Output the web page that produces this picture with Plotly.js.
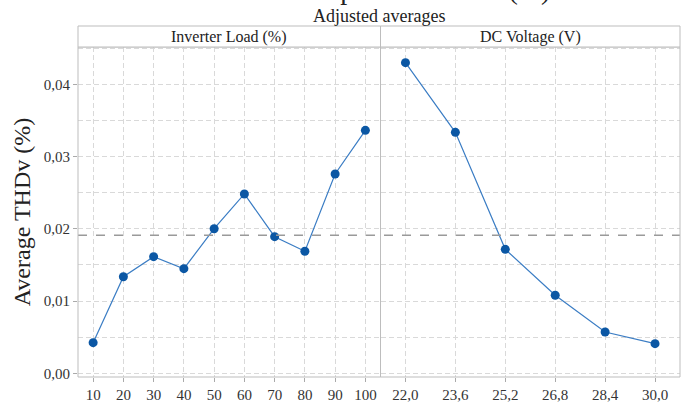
<!DOCTYPE html>
<html>
<head>
<meta charset="utf-8">
<script src="https://cdn.plot.ly/plotly-3.0.1.min.js"></script>
<style>html,body{margin:0;padding:0;background:#fff;}#chart{width:685px;height:402px;}</style>
</head>
<body>
<div id="chart"></div>
<script>
// Data
const loadCategories = ["10","20","30","40","50","60","70","80","90","100"];
const loadMeans = [0.00424,0.01337,0.01614,0.01448,0.02001,0.02482,0.01891,0.01689,0.02758,0.03363];
const voltageCategories = ["22,0","23,6","25,2","26,8","28,4","30,0"];
const voltageMeans = [0.04299,0.03335,0.01716,0.01080,0.00572,0.00410];
const grandMean = 0.01910;
const panelTitles = ["Inverter Load (%)","DC Voltage (V)"];
const yTickVals = [0,0.01,0.02,0.03,0.04];
const mainTitle = "Main effects plot for THDv (%)";
const subTitle = "Adjusted averages";
const yTitle = "Average THDv (%)";

const FONT = "Liberation Serif";
const split = 0.5025;
const stripTop = 1.0636;
const markerColor = "#0b57a4";
const lineColor = "#3b7dc4";

const traces = [
  {x: loadCategories, y: loadMeans, xaxis:"x", yaxis:"y", type:"scatter", mode:"lines+markers",
   line:{color:lineColor,width:1.2}, marker:{color:markerColor,size:9}, hoverinfo:"skip"},
  {x: voltageCategories, y: voltageMeans, xaxis:"x2", yaxis:"y", type:"scatter", mode:"lines+markers",
   line:{color:lineColor,width:1.2}, marker:{color:markerColor,size:9}, hoverinfo:"skip"}
];

const xCommon = {
  type:"category", showgrid:true, gridcolor:"#d9d9d9", griddash:"5px,3px", gridwidth:1,
  zeroline:false, showline:false, ticks:"outside", ticklen:4, tickcolor:"#aaa",
  tickfont:{family:FONT,size:15,color:"#333"}, anchor:"y", fixedrange:true
};

const layout = {
  width:685, height:402,
  margin:{l:78, r:5, t:47, b:25},
  paper_bgcolor:"#fff", plot_bgcolor:"#fff",
  separators:",.",
  showlegend:false,
  font:{family:FONT},
  xaxis: Object.assign({}, xCommon, {domain:[0,split], range:[-0.5, loadCategories.length-0.5]}),
  xaxis2: Object.assign({}, xCommon, {domain:[split,1], range:[-0.5, voltageCategories.length-0.5]}),
  yaxis: {
    range:[-0.00051,0.04516], tickvals:yTickVals, tickformat:".2f",
    showgrid:true, gridcolor:"#d9d9d9", griddash:"5px,3px", gridwidth:1,
    minor:{dtick:0.005, tick0:0, showgrid:true, gridcolor:"#d9d9d9", griddash:"5px,3px", gridwidth:1, ticks:""},
    zeroline:false, showline:false, ticks:"outside", ticklen:4, tickcolor:"#aaa",
    tickfont:{family:FONT,size:15,color:"#333"},
    title:{text:yTitle, font:{family:FONT,size:24,color:"#222"}, standoff:6},
    fixedrange:true
  },
  shapes:[
    {type:"line", xref:"paper", yref:"y", x0:0, x1:1, y0:grandMean, y1:grandMean,
     line:{color:"#9a9a9a", width:1.6, dash:"dash"}},
    {type:"rect", xref:"paper", yref:"paper", x0:0, x1:split, y0:0, y1:1, line:{color:"#bdbdbd",width:1}},
    {type:"rect", xref:"paper", yref:"paper", x0:split, x1:1, y0:0, y1:1, line:{color:"#bdbdbd",width:1}},
    {type:"rect", xref:"paper", yref:"paper", x0:0, x1:split, y0:1, y1:stripTop, line:{color:"#bdbdbd",width:1}, fillcolor:"#fff"},
    {type:"rect", xref:"paper", yref:"paper", x0:split, x1:1, y0:1, y1:stripTop, line:{color:"#bdbdbd",width:1}, fillcolor:"#fff"}
  ],
  annotations:[
    {text:panelTitles[0], xref:"paper", yref:"paper", x:split/2, y:(1+stripTop)/2, xanchor:"center", yanchor:"middle",
     showarrow:false, font:{family:FONT,size:16,color:"#222"}},
    {text:panelTitles[1], xref:"paper", yref:"paper", x:(split+1)/2, y:(1+stripTop)/2, xanchor:"center", yanchor:"middle",
     showarrow:false, font:{family:FONT,size:16,color:"#222"}},
    {text:subTitle, xref:"paper", yref:"paper", x:0.5, y:stripTop, xanchor:"center", yanchor:"bottom", yshift:-2,
     showarrow:false, font:{family:FONT,size:18,color:"#222"}},
    {text:mainTitle, xref:"paper", yref:"paper", x:0.5, y:1.1152, xanchor:"center", yanchor:"bottom", yshift:2, xshift:-8,
     showarrow:false, font:{family:FONT,size:28,color:"#222"}}
  ]
};

Plotly.newPlot("chart", traces, layout, {displayModeBar:false, staticPlot:true});
</script>
</body>
</html>
